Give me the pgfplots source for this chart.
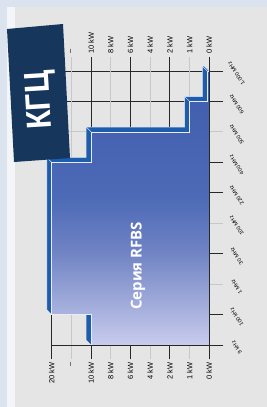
\documentclass[border=0pt]{standalone}
\usepackage{fontspec}
\setmainfont{Liberation Sans}
\newfontfamily\osans{Open Sans}
\usepackage{pgfplots}
\pgfplotsset{compat=1.18}
\definecolor{bgblue}{RGB}{219,228,238}
\definecolor{stripw}{RGB}{243,245,248}
\definecolor{panel}{RGB}{229,229,229}
\definecolor{darkgrid}{RGB}{40,40,40}
\definecolor{lightgrid}{RGB}{200,200,200}
\definecolor{navy}{RGB}{22,54,92}
\definecolor{side}{RGB}{30,92,172}
\definecolor{gb}{RGB}{200,204,236}
\definecolor{gm}{RGB}{112,131,196}
\definecolor{gt1}{RGB}{76,106,182}
\definecolor{gt}{RGB}{62,92,172}
\pgfdeclareverticalshading{rfbs}{100bp}{color(0bp)=(gb); color(25bp)=(gb); color(42bp)=(gm); color(52bp)=(gt1); color(75bp)=(gt); color(100bp)=(gt)}
\pgfplotsset{
  commonax/.style={
    at={(51.7bp,-359bp)}, anchor=south west, scale only axis,
    width=171.4bp, height=302bp,
    x dir=reverse, xmin=-0.7, xmax=8, ymin=-0.46, ymax=9.46,
    axis line style={draw=none}, major tick length=0pt, minor tick length=0pt,
    xtick={0,2,4,6,8}, xticklabels={0 kW,2 kW,6 kW,10 kW,20 kW},
    extra x ticks={1,3,5,7}, extra x tick labels={1 kW,4 kW,8 kW,--},
    clip=false,
  }
}
\begin{document}
\begin{tikzpicture}
\useasboundingbox (0,0) rectangle (267bp,-407bp);
\fill[bgblue] (0,0) rectangle (267bp,-407bp);
\fill[stripw] (7bp,-7bp) rectangle (267bp,-407bp);
\fill[panel] (15bp,-7bp) rectangle (267bp,-407bp);

\begin{axis}[commonax,
  ytick={0,1,3,5,6,8,9},
  yticklabels={9 kHz,100 kHz,30 MHz,220 MHz,400 MHz,600 MHz,{1,000 MHz}},
  extra y ticks={2,4,7}, extra y tick labels={1 MHz,100 MHz,500 MHz},
  grid=major, major grid style={darkgrid, line width=0.9bp},
  extra x tick style={major grid style={lightgrid, line width=0.9bp}},
  extra y tick style={major grid style={lightgrid, line width=0.9bp}},
  yticklabel pos=right,
  xticklabel style={font=\fontsize{7.5}{8}\selectfont, rotate=90, anchor=east},
  yticklabel style={font=\fontsize{5.5}{6}\selectfont, xshift=13.5bp, yshift=-2.5bp, rotate=123, anchor=center},
]
% extrusion (side and top faces)
\addplot[fill=side, draw=white!85!side, line width=0.5bp] coordinates {
 (0,0) (6,0) (6.25,0.16) (6.25,1) (8,1) (8.25,1.16) (8.25,6.16) (6.25,6.16)
 (6.25,7.16) (1.25,7.16) (1.25,8.16) (0.35,8.16) (0.35,9.16) (0.25,9.16) (0,9)} -- cycle;
\addplot[draw=white!85!side, line width=0.5bp] coordinates {(8,6) (8.25,6.16)};
\addplot[draw=white!85!side, line width=0.5bp] coordinates {(6,7) (6.25,7.16)};
\addplot[draw=white!85!side, line width=0.5bp] coordinates {(1,8) (1.25,8.16)};
\addplot[draw=white!85!side, line width=0.5bp] coordinates {(0.1,9) (0.35,9.16)};
% front face
\addplot[shade, shading=rfbs, draw=white!60!gb, line width=0.4bp] coordinates {
 (0,0) (6,0) (6,1) (8,1) (8,6) (6,6) (6,7) (1,7) (1,8) (0.1,8) (0.1,9) (0,9)} -- cycle;
% axis lines
\addplot[darkgrid, line width=0.9bp] coordinates {(-0.7,0) (8,0)};
\addplot[darkgrid, line width=0.9bp] coordinates {(0,-0.46) (0,9.46)};
\node[rotate=90, text=white, font=\osans\bfseries\fontsize{15}{16}\selectfont] at (axis cs:3.62,2.6) {Серия RFBS};
\end{axis}

\begin{axis}[commonax,
  ytick=\empty, xticklabel pos=upper,
  xticklabel style={font=\fontsize{7.5}{8}\selectfont, rotate=90, anchor=west},
]
\end{axis}

\fill[navy] (7bp,-29bp) -- (63bp,-24bp) -- (70bp,-158bp) -- (14bp,-162bp) -- cycle;
\node[white, font=\bfseries\fontsize{35}{35}\selectfont, rotate=93.5, xscale=0.88] at (41bp,-100bp) {КГЦ};
\end{tikzpicture}
\end{document}
